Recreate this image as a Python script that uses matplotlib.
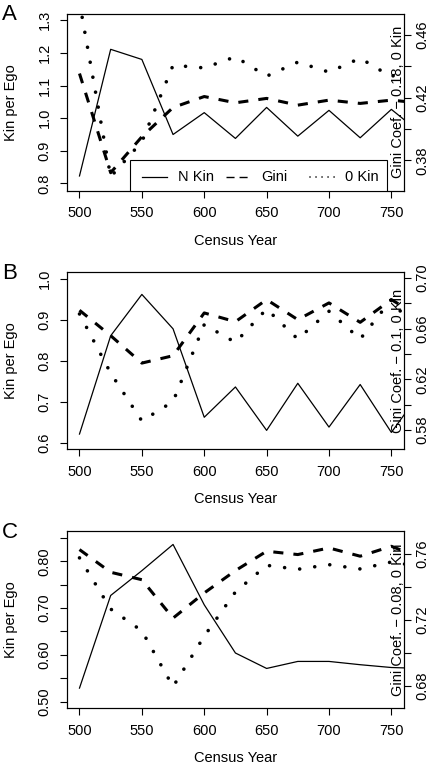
import matplotlib
matplotlib.use("Agg")
import matplotlib.pyplot as plt
from matplotlib.patches import Rectangle

plt.rcParams['font.family'] = ['Liberation Sans', 'DejaVu Sans']

# census years (775 lies just past the plotted range and gets clipped)
years = [500, 525, 550, 575, 600, 625, 650, 675, 700, 725, 750, 775]

# panel A
a_nkin = [0.823, 1.211, 1.180, 0.950, 1.017, 0.938, 1.033, 0.945, 1.024, 0.940, 1.027, 0.950]
a_gini = [0.4355, 0.3721, 0.3951, 0.4138, 0.4208, 0.4168, 0.4196, 0.4153, 0.4185, 0.4164, 0.4185, 0.4165]
a_zero = [0.481, 0.3695, 0.3919, 0.4408, 0.4391, 0.4462, 0.4338, 0.4428, 0.4364, 0.4453, 0.4334, 0.445]

# panel B
b_nkin = [0.621, 0.861, 0.962, 0.878, 0.662, 0.736, 0.630, 0.745, 0.638, 0.742, 0.625, 0.730]
b_gini = [0.6745, 0.6545, 0.6329, 0.6387, 0.6724, 0.6655, 0.6829, 0.6671, 0.6803, 0.6650, 0.6829, 0.668]
b_zero = [0.6716, 0.6250, 0.5873, 0.6026, 0.6632, 0.6492, 0.6755, 0.6518, 0.6737, 0.6518, 0.6829, 0.6513]

# panel C
c_nkin = [0.529, 0.727, 0.780, 0.836, 0.707, 0.604, 0.571, 0.586, 0.586, 0.579, 0.573, 0.571]
c_gini = [0.7624, 0.7487, 0.7442, 0.7210, 0.7362, 0.7497, 0.7614, 0.7594, 0.7634, 0.7584, 0.7644, 0.757]
c_zero = [0.7574, 0.7265, 0.7133, 0.6796, 0.7101, 0.7368, 0.7529, 0.7505, 0.7533, 0.7507, 0.7549, 0.752]

x_ticks = [500, 550, 600, 650, 700, 750]
legend_names = ["N Kin", "Gini", "0 Kin"]

panels = [
    dict(letter="A", nkin=a_nkin, gini=a_gini, zero=a_zero, bottom=0.7507,
         ylim=(0.7778, 1.3204), yticks=[0.8, 0.9, 1.0, 1.1, 1.2, 1.3],
         ylabels=["0.8", "0.9", "1.0", "1.1", "1.2", "1.3"],
         rlim=(0.3606, 0.4738), rticks=[0.38, 0.40, 0.42, 0.44, 0.46],
         rlabels=["0.38", "", "0.42", "", "0.46"],
         rname="Gini Coef. \u2212 0.18, 0 Kin", legend=True),
    dict(letter="B", nkin=b_nkin, gini=b_gini, zero=b_zero, bottom=0.4127,
         ylim=(0.5838, 1.0163), yticks=[0.6, 0.7, 0.8, 0.9, 1.0],
         ylabels=["0.6", "0.7", "0.8", "0.9", "1.0"],
         rlim=(0.565, 0.7045), rticks=[0.58, 0.60, 0.62, 0.64, 0.66, 0.68, 0.70],
         rlabels=["0.58", "", "0.62", "", "0.66", "", "0.70"],
         rname="Gini Coef. \u2212 0.1, 0 Kin", legend=False),
    dict(letter="C", nkin=c_nkin, gini=c_gini, zero=c_zero, bottom=0.0741,
         ylim=(0.4858, 0.8643), yticks=[0.50, 0.55, 0.60, 0.65, 0.70, 0.75, 0.80, 0.85],
         ylabels=["0.50", "", "0.60", "", "0.70", "", "0.80", ""],
         rlim=(0.6665, 0.7735), rticks=[0.68, 0.70, 0.72, 0.74, 0.76],
         rlabels=["0.68", "", "0.72", "", "0.76"],
         rname="Gini Coef. \u2212 0.08, 0 Kin", legend=False),
]

FS = 10.5
fig = plt.figure(figsize=(4.38, 7.65), dpi=100)

for p in panels:
    ax = fig.add_axes([0.153, p["bottom"], 0.769, 0.2315])
    ax.plot(years, p["nkin"], color="black", lw=0.9)
    ax.set_xlim(490, 760)
    ax.set_ylim(*p["ylim"])
    ax.set_xticks(x_ticks)
    ax.set_yticks(p["yticks"])
    ax.set_yticklabels(p["ylabels"], rotation=90, va="center")
    ax.tick_params(direction="out", length=5, width=0.8, labelsize=FS, pad=6)
    ax.tick_params(axis="x", pad=6)
    ax.set_xlabel("Census Year", fontsize=FS, labelpad=10)
    ax.set_ylabel("Kin per Ego", fontsize=FS, labelpad=14)

    ax2 = ax.twinx()
    ax2.plot(years, p["gini"], color="black", lw=2.2, linestyle=(0, (3.3, 3.3)))
    ax2.plot(years, p["zero"], color="black", lw=2.6, linestyle=(0, (0.01, 4.2)),
             dash_capstyle="round")
    ax2.set_ylim(*p["rlim"])
    ax2.set_yticks(p["rticks"])
    ax2.set_yticklabels(p["rlabels"], rotation=90, va="center")
    ax2.tick_params(direction="out", length=5, width=0.8, labelsize=FS, pad=3)
    ax2.text(0.982, 0.5, p["rname"], transform=ax2.transAxes, rotation=90,
             ha="center", va="center", fontsize=FS)

    for a in (ax, ax2):
        for s in a.spines.values():
            s.set_linewidth(0.8)

    top = p["bottom"] + 0.2315
    fig.text(0.005, top + 0.012, p["letter"], fontsize=16, va="top", ha="left")

    if p["legend"]:
        # R style legend: equal column widths, one row, boxed
        tr = ax2.transAxes
        ax2.add_patch(Rectangle((0.187, 0.0), 0.763, 0.175, transform=tr,
                                facecolor="white", edgecolor="black", lw=0.8,
                                zorder=5))
        ly = 0.079
        styles = [
            dict(lw=0.9, linestyle="-"),
            dict(lw=1.0, linestyle=(0, (5.8, 3.6))),
            dict(lw=1.2, linestyle=(0, (0.01, 3.6)), dash_capstyle="round"),
        ]
        for i, (name, st) in enumerate(zip(legend_names, styles)):
            x0 = 0.2226 + i * 0.249
            ax2.plot([x0, x0 + 0.074], [ly, ly], transform=tr, color="black",
                     zorder=6, **st)
            ax2.text(x0 + 0.106, ly, name, transform=tr, fontsize=FS,
                     va="center", ha="left", zorder=6)

fig.savefig("out.png", dpi=100)
